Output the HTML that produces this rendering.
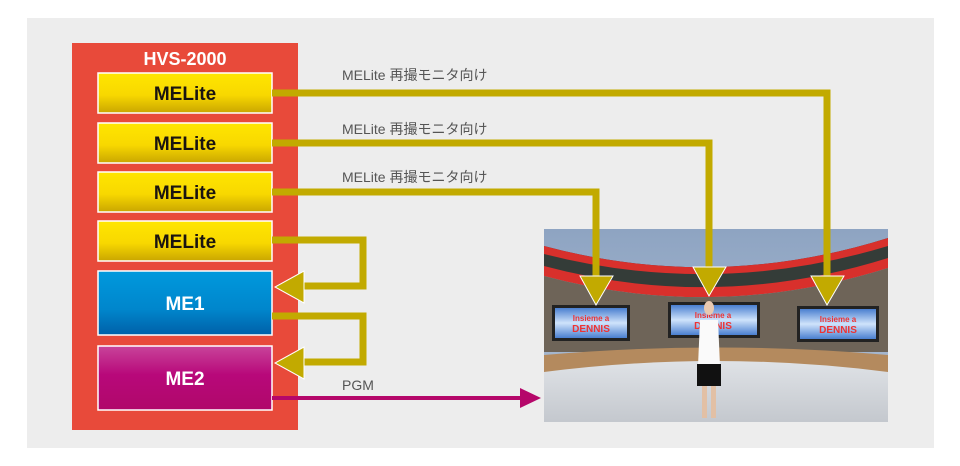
<!DOCTYPE html>
<html><head><meta charset="utf-8"><style>
html,body{margin:0;padding:0;background:#fff;width:960px;height:466px;overflow:hidden}
</style></head><body>
<svg width="960" height="466" viewBox="0 0 960 466" xmlns="http://www.w3.org/2000/svg" font-family="Liberation Sans, Noto Sans CJK JP, sans-serif">
<defs>
<linearGradient id="y" x1="0" y1="0" x2="0" y2="1"><stop offset="0" stop-color="#ffe600"/><stop offset="0.55" stop-color="#f8d800"/><stop offset="1" stop-color="#c9a600"/></linearGradient>
<linearGradient id="b" x1="0" y1="0" x2="0" y2="1"><stop offset="0" stop-color="#0099dd"/><stop offset="0.6" stop-color="#0086cc"/><stop offset="1" stop-color="#0060a8"/></linearGradient>
<linearGradient id="m" x1="0" y1="0" x2="0" y2="1"><stop offset="0" stop-color="#c8449a"/><stop offset="0.45" stop-color="#b8087a"/><stop offset="1" stop-color="#b0086a"/></linearGradient>
<linearGradient id="wall" x1="0" y1="0" x2="0" y2="1"><stop offset="0" stop-color="#8ea4c2"/><stop offset="1" stop-color="#b0c0d4"/></linearGradient>
<linearGradient id="floor" x1="0" y1="0" x2="0" y2="1"><stop offset="0" stop-color="#dfe2e6"/><stop offset="1" stop-color="#c4c8ce"/></linearGradient>
<linearGradient id="scr" x1="0" y1="0" x2="0" y2="1"><stop offset="0" stop-color="#4a7fd0"/><stop offset="0.5" stop-color="#cfe3fb"/><stop offset="1" stop-color="#4a7fd0"/></linearGradient>
</defs>
<rect x="27" y="18" width="907" height="430" fill="#ededed"/>
<!-- photo -->
<g>
<rect x="544" y="229" width="344" height="193" fill="url(#wall)"/>
<path d="M544 246 Q716 292 888 238 L888 262 Q716 312 544 270 Z" fill="#343c38"/>
<path d="M544 246 Q716 292 888 238 L888 246 Q716 298 544 254 Z" fill="#d8302c"/>
<path d="M544 266 Q716 312 888 258 L888 268 Q716 322 544 276 Z" fill="#d8302c"/>
<path d="M544 276 Q716 322 888 268 L888 352 L544 352 Z" fill="#6e6458"/>
<path d="M544 355 Q716 340 888 355 L888 380 Q716 355 544 380 Z" fill="#b48a5e"/>
<path d="M544 372 Q716 350 888 372 L888 422 L544 422 Z" fill="url(#floor)"/>
<rect x="552" y="305" width="78" height="36" fill="#222"/><rect x="555" y="308" width="72" height="30" fill="url(#scr)"/>
<rect x="668" y="302" width="92" height="36" fill="#222"/><rect x="671" y="305" width="86" height="30" fill="url(#scr)"/>
<rect x="797" y="306" width="82" height="36" fill="#222"/><rect x="800" y="309" width="76" height="30" fill="url(#scr)"/>
<text x="591" y="321" font-size="8" fill="#e33" text-anchor="middle" font-weight="bold">Insieme a</text>
<text x="591" y="332" font-size="10" fill="#e33" text-anchor="middle" font-weight="bold">DENNIS</text>
<text x="713" y="318" font-size="8" fill="#e33" text-anchor="middle" font-weight="bold">Insieme a</text>
<text x="713" y="329" font-size="10" fill="#e33" text-anchor="middle" font-weight="bold">DENNIS</text>
<text x="838" y="322" font-size="8" fill="#e33" text-anchor="middle" font-weight="bold">Insieme a</text>
<text x="838" y="333" font-size="10" fill="#e33" text-anchor="middle" font-weight="bold">DENNIS</text>
<ellipse cx="709" cy="308" rx="5" ry="7" fill="#e9c9b0"/>
<path d="M700 320 L718 320 L720 366 L698 366 Z" fill="#fafafa"/>
<rect x="697" y="364" width="24" height="22" fill="#111"/>
<rect x="702" y="386" width="5" height="32" fill="#e2c0a5"/><rect x="711" y="386" width="5" height="32" fill="#e2c0a5"/>
</g>
<!-- red box -->
<rect x="72" y="43" width="226" height="387" fill="#e84a3a"/>
<text x="185" y="65" font-size="18" fill="#fff" text-anchor="middle" font-weight="bold">HVS-2000</text>
<g stroke="#fff" stroke-width="1.5">
<rect x="98" y="73" width="174" height="40" fill="url(#y)"/>
<rect x="98" y="123" width="174" height="40" fill="url(#y)"/>
<rect x="98" y="172" width="174" height="40" fill="url(#y)"/>
<rect x="98" y="221" width="174" height="40" fill="url(#y)"/>
<rect x="98" y="271" width="174" height="64" fill="url(#b)"/>
<rect x="98" y="346" width="174" height="64" fill="url(#m)"/>
</g>
<g font-size="19" font-weight="bold" text-anchor="middle" fill="#1a1410">
<text x="185" y="100">MELite</text><text x="185" y="150">MELite</text><text x="185" y="199">MELite</text><text x="185" y="248">MELite</text>
</g>
<text x="185" y="310" font-size="19" font-weight="bold" text-anchor="middle" fill="#fff">ME1</text>
<text x="185" y="385" font-size="19" font-weight="bold" text-anchor="middle" fill="#fff">ME2</text>
<!-- connectors -->
<g fill="none" stroke="#c2aa00" stroke-width="7">
<path d="M272 93 H827 V278"/>
<path d="M272 143 H709 V269"/>
<path d="M272 192 H596 V278"/>
<path d="M272 240 H363 V286 H300"/>
<path d="M272 316 H363 V362 H300"/>
</g>
<g fill="#c2aa00" stroke="#fff" stroke-width="1">
<path d="M811 276 L844 276 L827 305 Z"/>
<path d="M693 267 L726 267 L709 296 Z"/>
<path d="M580 276 L613 276 L596 305 Z"/>
<path d="M304 271 L304 303 L275 287 Z"/>
<path d="M304 347 L304 379 L275 363 Z"/>
</g>
<path d="M272 398 H522" stroke="#b5076a" stroke-width="4"/>
<path d="M520 388 L541 398 L520 408 Z" fill="#b5076a"/>
<g font-size="14" fill="#555">
<text x="342" y="80">MELite 再撮モニタ向け</text>
<text x="342" y="134">MELite 再撮モニタ向け</text>
<text x="342" y="182">MELite 再撮モニタ向け</text>
<text x="342" y="390">PGM</text>
</g>
</svg>
</body></html>
